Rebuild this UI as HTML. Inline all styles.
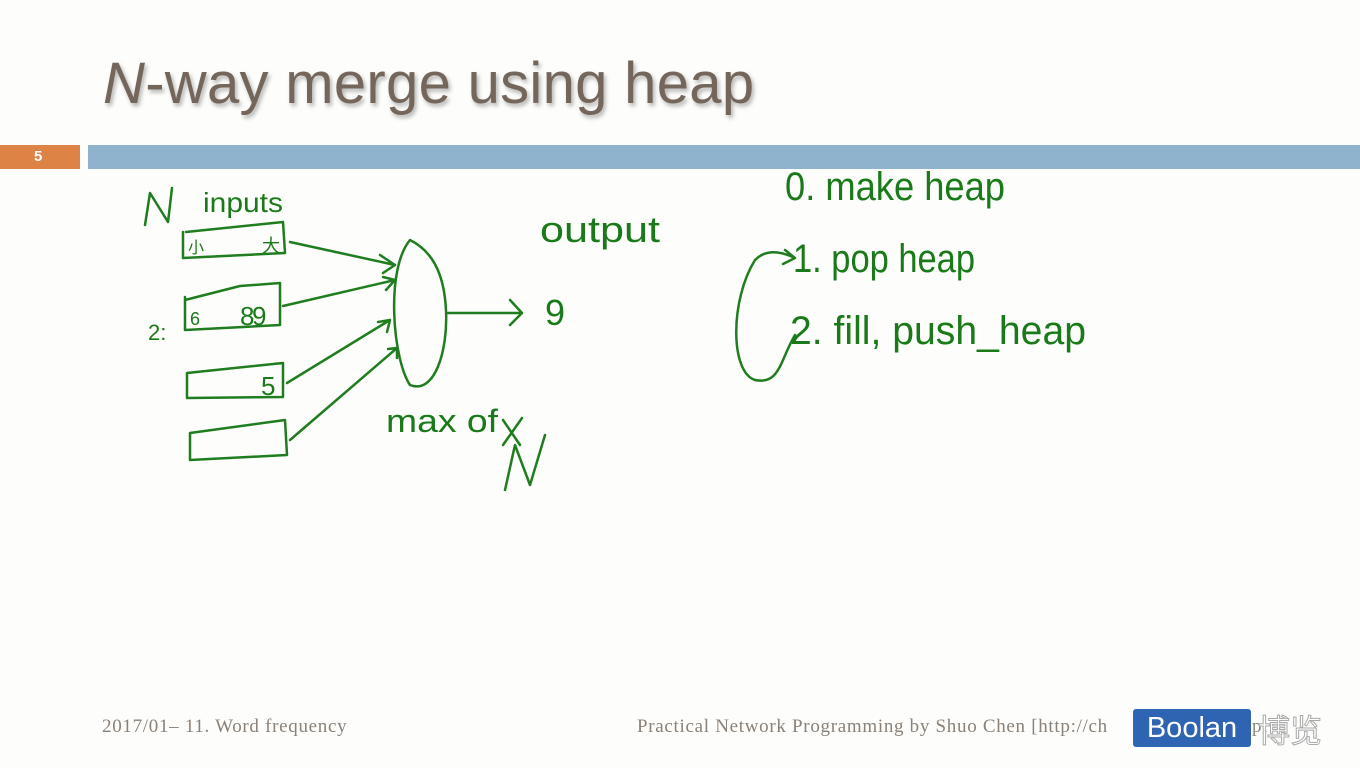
<!DOCTYPE html>
<html><head><meta charset="utf-8"><style>
body{margin:0;width:1360px;height:768px;background:#fdfdfb;overflow:hidden;position:relative;font-family:"Liberation Sans",sans-serif}
.t{position:absolute;left:103px;top:50px;font-size:58px;color:#74665b;text-shadow:2px 3px 4px rgba(0,0,0,0.3);letter-spacing:0.3px}
.bar1{position:absolute;left:0;top:145px;width:80px;height:24px;background:#dd8345;color:#fff;font-weight:bold;font-size:15px;line-height:24px;padding-left:34px;box-sizing:border-box}
.bar2{position:absolute;left:88px;top:145px;width:1272px;height:24px;background:#8fb3cc}
.f{position:absolute;top:716px;font-family:"Liberation Serif",serif;font-size:19px;color:#8a8278;letter-spacing:0.7px}
.bo{position:absolute;left:1133px;top:709px;width:118px;height:38px;background:#2f64b3;border-radius:3px;color:#fff;font-size:29px;line-height:38px;text-align:center}
.cn{position:absolute;left:1258px;top:706px;font-family:"Noto Sans CJK SC",sans-serif;font-size:32px;color:#fff;-webkit-text-stroke:1px #aaa}
svg{position:absolute;left:0;top:0}
svg text{font-family:"Liberation Sans",sans-serif;fill:#1a7a1a}
</style></head><body>
<div class="t"><i>N</i>-way merge using heap</div>
<div class="bar1">5</div><div class="bar2"></div>
<div class="f" style="left:102px">2017/01– 11. Word frequency</div>
<div class="f" style="left:637px">Practical Network Programming by Shuo Chen [http://ch</div>
<div class="f" style="left:1252px">pl</div>
<div class="bo">Boolan</div>
<div class="cn">博览</div>
<svg width="1360" height="768" fill="none" stroke="#1f7d1f" stroke-width="2.5" stroke-linecap="round" stroke-linejoin="round">
<path d="M145 225 L150 193 L168 222 L172 188"/>
<text x="203" y="212" font-size="28" stroke="none" textLength="80" lengthAdjust="spacingAndGlyphs">inputs</text>
<path d="M183 232 L183 258 L285 253 L283 222 L186 232"/>
<text x="188" y="253" font-size="16" stroke="none">小</text><text x="262" y="252" font-size="18" stroke="none">大</text>
<path d="M185 297 L185 330 L280 325 L280 283 L240 286 L185 300"/>
<text x="190" y="325" font-size="18" stroke="none">6</text><text x="240" y="325" font-size="26" stroke="none">8</text><text x="252" y="325" font-size="26" stroke="none">9</text>
<text x="148" y="340" font-size="22" stroke="none">2:</text>
<path d="M187 373 L187 398 L283 397 L283 363 L187 373"/>
<text x="261" y="395" font-size="26" stroke="none">5</text>
<path d="M190 433 L190 460 L287 455 L285 420 L190 433"/>
<path d="M290 242 L395 265 M380 255 L395 265 L383 273"/>
<path d="M283 306 L395 280 M383 277 L395 280 L386 290"/>
<path d="M287 383 L390 320 M378 322 L390 320 L387 332"/>
<path d="M290 440 L397 348 M388 349 L397 348 L397 358"/>
<path d="M410 240 C385 270 393 360 410 385 C435 395 448 350 446 310 C444 270 430 250 410 240 Z"/>
<path d="M448 313 L522 313 M510 300 L522 313 L510 325"/>
<text x="540" y="242" font-size="36" stroke="none" textLength="120" lengthAdjust="spacingAndGlyphs">output</text>
<text x="545" y="325" font-size="36" stroke="none">9</text>
<text x="386" y="432" font-size="32" stroke="none" textLength="112" lengthAdjust="spacingAndGlyphs">max of</text>
<path d="M503 420 L520 445 M503 445 L522 418"/>
<path d="M505 490 L515 445 L530 485 L545 435"/>
<text x="785" y="200" font-size="40" stroke="none" textLength="220" lengthAdjust="spacingAndGlyphs">0. make heap</text>
<text x="793" y="272" font-size="40" stroke="none" textLength="182" lengthAdjust="spacingAndGlyphs">1. pop heap</text>
<text x="790" y="344" font-size="40" stroke="none" textLength="296" lengthAdjust="spacingAndGlyphs">2. fill, push_heap</text>
<path d="M795 335 C780 360 780 385 755 380 C730 372 730 300 755 260 C765 250 778 250 795 258 M785 250 L795 258 L783 264"/>
</svg>
</body></html>
